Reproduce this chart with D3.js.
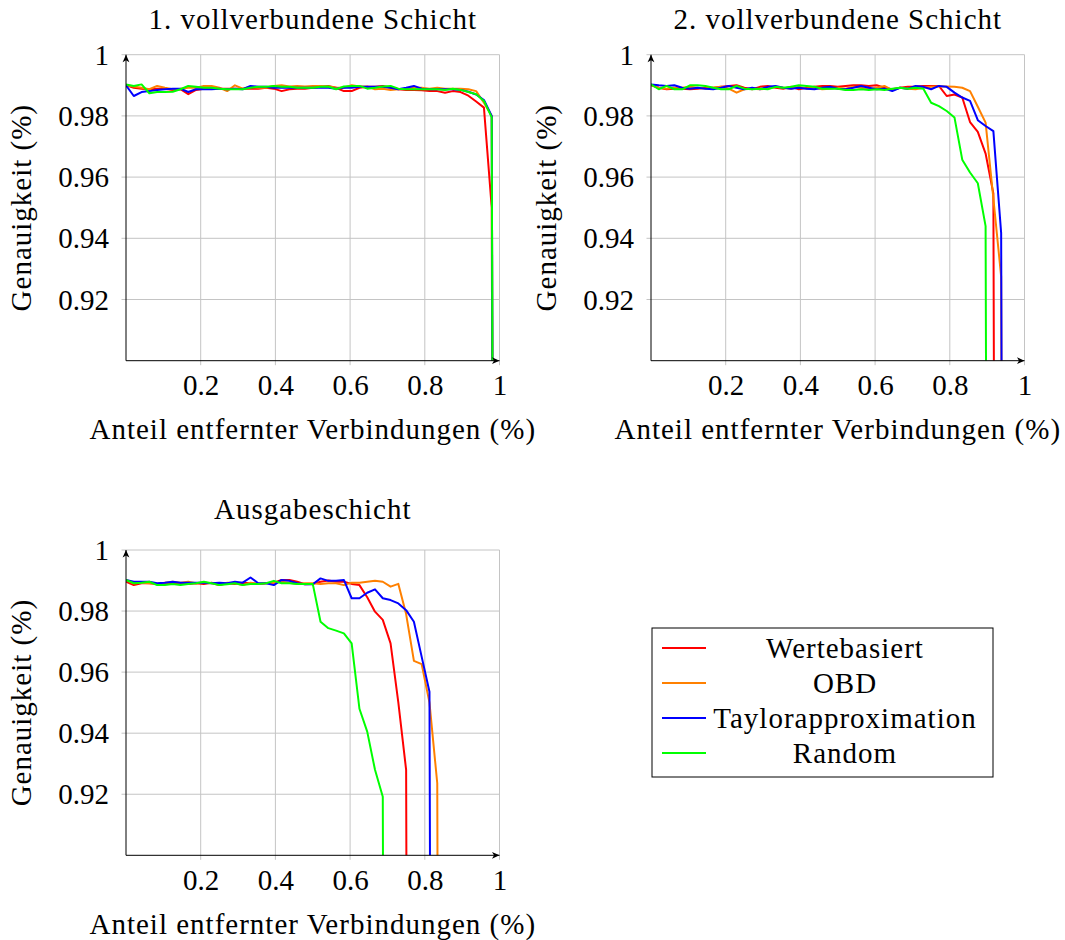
<!DOCTYPE html>
<html>
<head>
<meta charset="utf-8">
<script src="https://cdn.jsdelivr.net/npm/d3@7"></script>
<style>
  body { margin: 0; background: #fff; }
  svg text { font-family: "Liberation Serif", "Times New Roman", serif; fill: #000; }
  svg text.wide { letter-spacing: 1px; }
</style>
</head>
<body>
<svg id="chart" width="1065" height="940"></svg>
<script>
// Anteil entfernter Verbindungen: Schritte von 1/48
const steps = d3.range(49).map(k => k / 48);
const xTicks = [0.2, 0.4, 0.6, 0.8, 1];
const yTicks = [0.92, 0.94, 0.96, 0.98, 1];
const seriesNames = ["Wertebasiert", "OBD", "Taylorapproximation", "Random"];

// 1. vollverbundene Schicht
const fc1Werte = [0.9900, 0.9892, 0.9889, 0.9887, 0.9889, 0.9889, 0.9885, 0.9887, 0.9871, 0.9885,
  0.9889, 0.9889, 0.9889, 0.9889, 0.9889, 0.9889, 0.9889, 0.9889, 0.9892, 0.9889,
  0.9881, 0.9887, 0.9889, 0.9889, 0.9892, 0.9895, 0.9898, 0.9892, 0.9881, 0.9881,
  0.9892, 0.9895, 0.9895, 0.9898, 0.9892, 0.9887, 0.9885, 0.9885, 0.9884, 0.9881,
  0.9881, 0.9876, 0.9881, 0.9878, 0.9866, 0.9847, 0.9827, 0.9500, 0.1000];
const fc1OBD = [0.9900, 0.9896, 0.9892, 0.9887, 0.9898, 0.9892, 0.9887, 0.9889, 0.9892, 0.9892,
  0.9898, 0.9898, 0.9892, 0.9881, 0.9900, 0.9889, 0.9895, 0.9892, 0.9892, 0.9898,
  0.9900, 0.9896, 0.9898, 0.9896, 0.9898, 0.9898, 0.9896, 0.9892, 0.9892, 0.9900,
  0.9896, 0.9896, 0.9887, 0.9889, 0.9885, 0.9887, 0.9889, 0.9892, 0.9892, 0.9889,
  0.9892, 0.9889, 0.9889, 0.9889, 0.9887, 0.9881, 0.9843, 0.9800, 0.1000];
const fc1Taylor = [0.9900, 0.9865, 0.9878, 0.9881, 0.9885, 0.9887, 0.9889, 0.9889, 0.9878, 0.9887,
  0.9887, 0.9887, 0.9889, 0.9887, 0.9889, 0.9887, 0.9898, 0.9895, 0.9895, 0.9892,
  0.9892, 0.9892, 0.9892, 0.9892, 0.9892, 0.9892, 0.9892, 0.9889, 0.9892, 0.9892,
  0.9895, 0.9895, 0.9895, 0.9895, 0.9892, 0.9887, 0.9892, 0.9898, 0.9889, 0.9887,
  0.9887, 0.9887, 0.9887, 0.9885, 0.9879, 0.9870, 0.9852, 0.9800, 0.1000];
const fc1Random = [0.9903, 0.9898, 0.9903, 0.9874, 0.9878, 0.9878, 0.9879, 0.9887, 0.9898, 0.9895,
  0.9892, 0.9892, 0.9889, 0.9887, 0.9887, 0.9887, 0.9892, 0.9895, 0.9895, 0.9898,
  0.9895, 0.9895, 0.9892, 0.9892, 0.9892, 0.9895, 0.9896, 0.9887, 0.9896, 0.9898,
  0.9898, 0.9889, 0.9892, 0.9896, 0.9898, 0.9889, 0.9887, 0.9887, 0.9887, 0.9887,
  0.9887, 0.9885, 0.9889, 0.9885, 0.9878, 0.9871, 0.9849, 0.9795, 0.1000];

// 2. vollverbundene Schicht
const fc2Werte = [0.9900, 0.9892, 0.9887, 0.9889, 0.9889, 0.9887, 0.9889, 0.9892, 0.9892, 0.9895,
  0.9898, 0.9900, 0.9892, 0.9887, 0.9895, 0.9898, 0.9892, 0.9889, 0.9895, 0.9887,
  0.9892, 0.9895, 0.9898, 0.9898, 0.9895, 0.9898, 0.9900, 0.9900, 0.9898, 0.9900,
  0.9892, 0.9887, 0.9892, 0.9895, 0.9896, 0.9898, 0.9898, 0.9898, 0.9865, 0.9870,
  0.9860, 0.9780, 0.9748, 0.9677, 0.9546, 0.1000];
const fc2OBD = [0.9900, 0.9892, 0.9889, 0.9892, 0.9892, 0.9895, 0.9892, 0.9889, 0.9892, 0.9895,
  0.9889, 0.9876, 0.9887, 0.9889, 0.9887, 0.9889, 0.9895, 0.9892, 0.9889, 0.9895,
  0.9889, 0.9892, 0.9887, 0.9889, 0.9892, 0.9889, 0.9895, 0.9892, 0.9887, 0.9892,
  0.9898, 0.9884, 0.9892, 0.9889, 0.9887, 0.9892, 0.9895, 0.9896, 0.9896, 0.9895,
  0.9892, 0.9881, 0.9830, 0.9778, 0.9530, 0.9275, 0.1000];
const fc2Taylor = [0.9903, 0.9900, 0.9898, 0.9900, 0.9892, 0.9889, 0.9892, 0.9889, 0.9887, 0.9892,
  0.9898, 0.9892, 0.9887, 0.9892, 0.9887, 0.9895, 0.9898, 0.9892, 0.9889, 0.9892,
  0.9889, 0.9887, 0.9892, 0.9895, 0.9889, 0.9887, 0.9892, 0.9898, 0.9892, 0.9887,
  0.9889, 0.9881, 0.9892, 0.9889, 0.9898, 0.9895, 0.9887, 0.9898, 0.9895, 0.9876,
  0.9860, 0.9849, 0.9786, 0.9767, 0.9750, 0.9417, 0.1000];
const fc2Random = [0.9903, 0.9887, 0.9898, 0.9887, 0.9887, 0.9900, 0.9900, 0.9898, 0.9892, 0.9887,
  0.9887, 0.9898, 0.9889, 0.9887, 0.9889, 0.9887, 0.9895, 0.9892, 0.9895, 0.9900,
  0.9898, 0.9895, 0.9889, 0.9889, 0.9889, 0.9885, 0.9885, 0.9887, 0.9885, 0.9887,
  0.9885, 0.9889, 0.9892, 0.9889, 0.9892, 0.9889, 0.9843, 0.9832, 0.9816, 0.9795,
  0.9657, 0.9615, 0.9580, 0.9440, 0.1000];

// Ausgabeschicht
const outWerte = [0.9896, 0.9885, 0.9891, 0.9891, 0.9889, 0.9891, 0.9893, 0.9891, 0.9889, 0.9891,
  0.9889, 0.9893, 0.9885, 0.9891, 0.9889, 0.9893, 0.9891, 0.9889, 0.9891, 0.9893,
  0.9902, 0.9902, 0.9896, 0.9888, 0.9889, 0.9896, 0.9900, 0.9896, 0.9896, 0.9889,
  0.9885, 0.9845, 0.9798, 0.9771, 0.9694, 0.9500, 0.9280, 0.1000];
const outOBD = [0.9902, 0.9891, 0.9893, 0.9891, 0.9889, 0.9893, 0.9896, 0.9893, 0.9896, 0.9891,
  0.9893, 0.9891, 0.9885, 0.9893, 0.9891, 0.9885, 0.9893, 0.9889, 0.9891, 0.9893,
  0.9896, 0.9893, 0.9889, 0.9891, 0.9891, 0.9889, 0.9891, 0.9891, 0.9885, 0.9893,
  0.9893, 0.9896, 0.9899, 0.9896, 0.9880, 0.9889, 0.9790, 0.9637, 0.9626, 0.9500,
  0.9236, 0.1000];
const outTaylor = [0.9902, 0.9896, 0.9896, 0.9896, 0.9891, 0.9893, 0.9896, 0.9893, 0.9893, 0.9893,
  0.9893, 0.9891, 0.9893, 0.9891, 0.9896, 0.9893, 0.9910, 0.9891, 0.9891, 0.9885,
  0.9902, 0.9899, 0.9891, 0.9888, 0.9888, 0.9907, 0.9899, 0.9899, 0.9902, 0.9842,
  0.9842, 0.9860, 0.9871, 0.9842, 0.9836, 0.9825, 0.9803, 0.9765, 0.9650, 0.9536,
  0.1000];
const outRandom = [0.9902, 0.9891, 0.9893, 0.9896, 0.9885, 0.9885, 0.9889, 0.9885, 0.9889, 0.9891,
  0.9896, 0.9891, 0.9885, 0.9888, 0.9891, 0.9885, 0.9889, 0.9889, 0.9891, 0.9899,
  0.9891, 0.9891, 0.9889, 0.9889, 0.9889, 0.9765, 0.9744, 0.9736, 0.9727, 0.9694,
  0.9480, 0.9405, 0.9280, 0.9192, 0.1000];

const colors = ["#ff0000", "#ff8000", "#0000ff", "#00ff00"];
const fontSize = 29;

const panels = [
  { title: "1. vollverbundene Schicht", left: 126, top: 54.7, h: 306, titleY: -25.5, series: [fc1Werte, fc1OBD, fc1Taylor, fc1Random] },
  { title: "2. vollverbundene Schicht", left: 651, top: 54.7, h: 306, titleY: -25.5, series: [fc2Werte, fc2OBD, fc2Taylor, fc2Random] },
  { title: "Ausgabeschicht", left: 126, top: 550, h: 305.3, titleY: -31, series: [outWerte, outOBD, outTaylor, outRandom] }
];
const plotW = 373.5;

const svg = d3.select("#chart");

svg.append("defs").append("marker")
  .attr("id", "arrow")
  .attr("viewBox", "-8 -4 9 8")
  .attr("refX", 0).attr("refY", 0)
  .attr("markerWidth", 9).attr("markerHeight", 8)
  .attr("markerUnits", "userSpaceOnUse")
  .attr("orient", "auto")
  .append("path")
  .attr("d", "M0,0 L-7.5,-3.4 L-5.5,0 L-7.5,3.4 Z")
  .attr("fill", "#000");

panels.forEach((p, i) => {
  const w = plotW, h = p.h;
  const x = d3.scaleLinear().domain([0, 1]).range([0, w]);
  const y = d3.scaleLinear().domain([0.9, 1]).range([h, 0]);

  const g = svg.append("g").attr("transform", `translate(${p.left},${p.top})`);

  // Gitter mit kleinen Überständen als Ticks
  g.append("g").selectAll("line").data(xTicks).join("line")
    .attr("x1", d => x(d)).attr("x2", d => x(d))
    .attr("y1", 0).attr("y2", h + 4.5)
    .attr("stroke", "#c4c4c4").attr("stroke-width", 1);
  g.append("g").selectAll("line").data(yTicks).join("line")
    .attr("y1", d => y(d)).attr("y2", d => y(d))
    .attr("x1", -4.5).attr("x2", w)
    .attr("stroke", "#c4c4c4").attr("stroke-width", 1);

  const clipId = `clip${i}`;
  g.append("clipPath").attr("id", clipId)
    .append("rect").attr("x", 0).attr("y", 0).attr("width", w).attr("height", h);

  const line = d3.line()
    .x((d, k) => x(steps[k]))
    .y(d => y(d));

  g.append("g").attr("clip-path", `url(#${clipId})`)
    .selectAll("path").data(p.series).join("path")
    .attr("d", d => line(d))
    .attr("fill", "none")
    .attr("stroke", (d, k) => colors[k])
    .attr("stroke-width", 2)
    .attr("stroke-linejoin", "round");

  // Achsen mit Pfeilen
  g.append("line").attr("x1", 0).attr("y1", h).attr("x2", 0).attr("y2", 0)
    .attr("stroke", "#000").attr("stroke-width", 1).attr("marker-end", "url(#arrow)");
  g.append("line").attr("x1", 0).attr("y1", h).attr("x2", w).attr("y2", h)
    .attr("stroke", "#000").attr("stroke-width", 1).attr("marker-end", "url(#arrow)");

  // Tick-Beschriftungen
  const xAxis = g.append("g").attr("transform", `translate(0,${h})`)
    .call(d3.axisBottom(x).tickValues(xTicks).tickSize(0).tickFormat(d3.format("")));
  xAxis.select(".domain").remove();
  xAxis.selectAll("text").attr("y", 34.3).attr("dy", null)
    .style("font-size", fontSize + "px");

  const yAxis = g.append("g")
    .call(d3.axisLeft(y).tickValues(yTicks).tickSize(0).tickFormat(d3.format("")));
  yAxis.select(".domain").remove();
  yAxis.selectAll("text").attr("x", -17).attr("dy", "9.5")
    .style("font-size", fontSize + "px");

  g.append("text").attr("class", "wide")
    .attr("x", w / 2).attr("y", p.titleY)
    .attr("text-anchor", "middle")
    .style("font-size", fontSize + "px")
    .text(p.title);

  g.append("text").attr("class", "wide")
    .attr("x", w / 2).attr("y", h + 78.3)
    .attr("text-anchor", "middle")
    .style("font-size", fontSize + "px")
    .text("Anteil entfernter Verbindungen (%)");

  g.append("text").attr("class", "wide")
    .attr("transform", `translate(-95,${h / 2}) rotate(-90)`)
    .attr("text-anchor", "middle")
    .style("font-size", fontSize + "px")
    .text("Genauigkeit (%)");
});

// Legende
const legend = svg.append("g").attr("transform", "translate(652,628)");
legend.append("rect")
  .attr("width", 341).attr("height", 149)
  .attr("fill", "#fff").attr("stroke", "#000").attr("stroke-width", 1);
const rows = legend.selectAll("g.row").data(seriesNames).join("g")
  .attr("class", "row")
  .attr("transform", (d, i) => `translate(0,${20 + i * 35})`);
rows.append("line")
  .attr("x1", 10).attr("x2", 54)
  .attr("stroke", (d, i) => colors[i]).attr("stroke-width", 2);
rows.append("text").attr("class", "wide")
  .attr("x", 193).attr("y", 9.5)
  .attr("text-anchor", "middle")
  .style("font-size", fontSize + "px")
  .text(d => d);
</script>
</body>
</html>
